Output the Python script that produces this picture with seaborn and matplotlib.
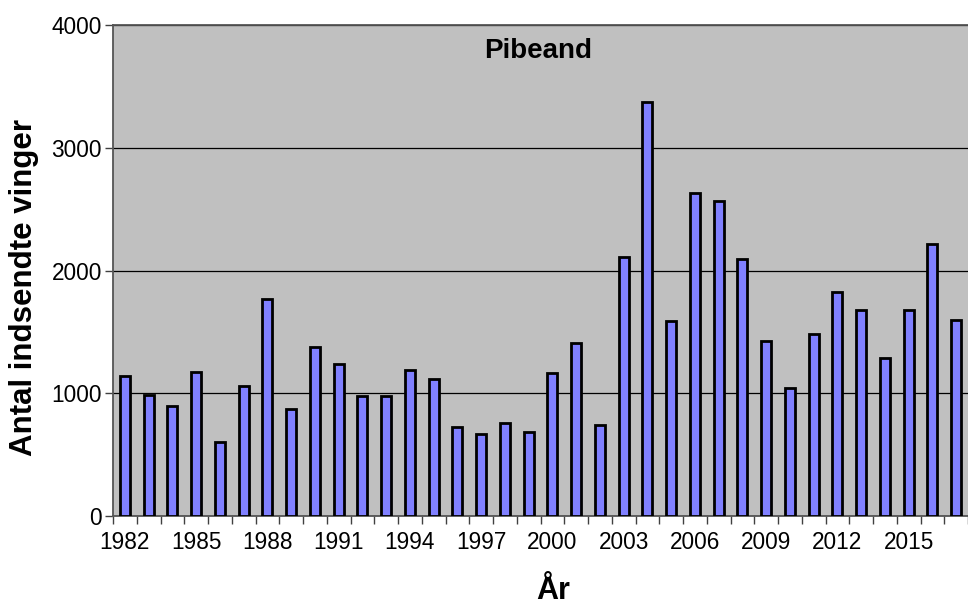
import numpy as np
import seaborn as sns
import matplotlib.pyplot as plt
import pandas as pd

years = list(range(1982, 2018))
vinger = [1140, 986, 896, 1173, 600, 1062, 1768, 874, 1380, 1236, 978, 980,
          1191, 1117, 723, 666, 761, 682, 1166, 1413, 740, 2107, 3374, 1590,
          2634, 2569, 2094, 1425, 1041, 1482, 1821, 1680, 1289, 1680, 2213, 1596]
yticks = [0, 1000, 2000, 3000, 4000]

sns.set_theme(style='white')
plt.rcParams['font.family'] = ['Liberation Sans', 'DejaVu Sans']

df = pd.DataFrame(dict(Aar=[str(y) for y in years], Antal=vinger))

fig = plt.figure(figsize=(9.68, 6.05), dpi=100)
ax = fig.add_axes([113 / 968, 1 - 516 / 605, 1 - 113 / 968, (516 - 25) / 605])
ax.set_facecolor('#C0C0C0')

sns.barplot(data=df, x='Aar', y='Antal', color='#8080FF', saturation=1,
            width=0.42, edgecolor='black', linewidth=2, ax=ax, zorder=3)

ax.set_xlim(-0.5, 35.125)
ax.set_ylim(0, 4000)
ax.set_yticks(yticks)
ax.set_yticklabels([str(v) for v in yticks])
ax.yaxis.grid(True, color='black', linewidth=0.9, zorder=1)
ax.set_axisbelow(True)

n = len(years)
ax.set_xticks(range(0, n, 3))
ax.set_xticklabels([str(years[i]) for i in range(0, n, 3)])
ax.set_xticks(np.arange(-0.5, n, 1), minor=True)
ax.tick_params(axis='x', which='major', length=0, pad=11, labelsize=16.3, colors='black')
ax.tick_params(axis='x', which='minor', length=6, width=1, color='#404040', direction='out', bottom=True)
ax.tick_params(axis='y', which='major', length=6, width=1, color='#404040', direction='out',
               left=True, pad=2, labelsize=16.3, labelcolor='black')

for s in ['left', 'bottom', 'top']:
    ax.spines[s].set_color('#555555')
    ax.spines[s].set_linewidth(1.3)
ax.spines['right'].set_visible(False)

ax.set_xlabel('')
ax.set_ylabel('')
ax.text(0.497, 0.947, 'Pibeand', transform=ax.transAxes, ha='center', va='center',
        fontsize=20, fontweight='bold', color='black')
fig.text(553 / 968, 1 - 599 / 605, 'År', ha='center', va='baseline',
         fontsize=22, fontweight='bold', color='black')
fig.text(24 / 968, 1 - 287.5 / 605, 'Antal indsendte vinger', rotation=90,
         ha='center', va='center', fontsize=22.5, fontweight='bold', color='black')

fig.savefig('out.png', dpi=100)
